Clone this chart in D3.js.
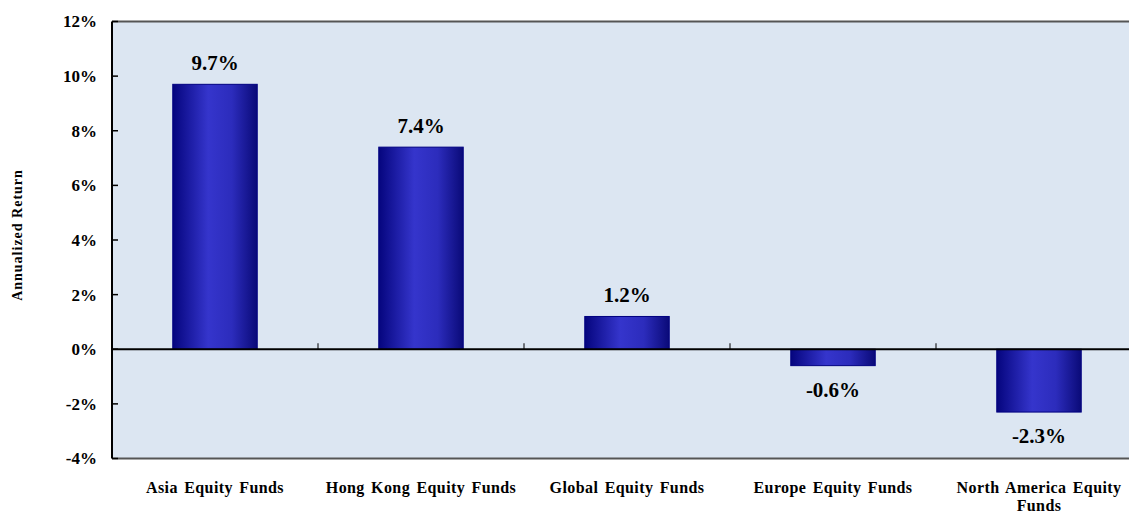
<!DOCTYPE html>
<html>
<head>
<meta charset="utf-8">
<script src="https://cdn.jsdelivr.net/npm/d3@7"></script>
<style>
  body { margin: 0; background: #fff; }
  text { font-family: "Liberation Serif", "Times New Roman", serif; font-weight: bold; fill: #000; }
</style>
</head>
<body>
<div id="chart"></div>
<script>
const categories = ['Asia Equity Funds', 'Hong Kong Equity Funds', 'Global Equity Funds', 'Europe Equity Funds', 'North America Equity Funds']
const returns = [9.7, 7.4, 1.2, -0.6, -2.3]
const yTicks = [-4, -2, 0, 2, 4, 6, 8, 10, 12]

const width = 1129
const height = 513
const margin = { top: 21.5, right: -13, bottom: 54.5, left: 112 }
const gWidth = width - margin.left - margin.right
const gHeight = height - margin.top - margin.bottom

const svg = d3.select('#chart').append('svg').attr('width', width).attr('height', height)

// 바 그라데이션
const defs = svg.append('defs')
const grad = defs.append('linearGradient').attr('id', 'barGrad').attr('x1', '0%').attr('x2', '100%').attr('y1', '0%').attr('y2', '0%')
grad.append('stop').attr('offset', '0%').attr('stop-color', '#05057e')
grad.append('stop').attr('offset', '42%').attr('stop-color', '#3535cc')
grad.append('stop').attr('offset', '70%').attr('stop-color', '#2c2cbc')
grad.append('stop').attr('offset', '100%').attr('stop-color', '#0a0a78')

const graph = svg.append('g').attr('transform', `translate(${margin.left}, ${margin.top})`)

const x = d3.scaleBand().domain(categories).range([0, gWidth]).paddingInner(0).paddingOuter(0)
const y = d3.scaleLinear().domain([-4, 12]).range([gHeight, 0])

// 배경
graph.append('rect').attr('x', 0).attr('y', 0).attr('width', gWidth).attr('height', gHeight).attr('fill', '#dce6f2')
graph.append('line').attr('x1', 0).attr('x2', gWidth).attr('y1', 0).attr('y2', 0).attr('stroke', '#555').attr('stroke-width', 2)
graph.append('line').attr('x1', 0).attr('x2', gWidth).attr('y1', gHeight).attr('y2', gHeight).attr('stroke', '#555').attr('stroke-width', 2)

// 바
const barW = x.bandwidth() * 0.41
graph.selectAll('rect.bar').data(returns).enter().append('rect')
  .attr('class', 'bar')
  .attr('x', (d, i) => x(categories[i]) + (x.bandwidth() - barW) / 2)
  .attr('width', barW)
  .attr('y', (d) => y(Math.max(0, d)))
  .attr('height', (d) => Math.abs(y(d) - y(0)))
  .attr('fill', 'url(#barGrad)')
  .attr('stroke', '#000080')
  .attr('stroke-width', 1)

// 값 라벨
graph.selectAll('text.val').data(returns).enter().append('text')
  .attr('class', 'val')
  .attr('x', (d, i) => x(categories[i]) + x.bandwidth() / 2)
  .attr('y', (d) => d >= 0 ? y(d) - 14 : y(d) + 31)
  .attr('text-anchor', 'middle')
  .style('font-size', '21px')
  .text((d) => `${d.toFixed(1)}%`)

// y축
const yAxis = d3.axisLeft(y).tickValues(yTicks).tickSize(0).tickPadding(15).tickFormat((d) => `${d}%`)
const gY = graph.append('g').call(yAxis)
gY.select('.domain').remove()
gY.selectAll('text').style('font-size', '17px').style('font-family', '"Liberation Serif", serif').style('font-weight', 'bold')
graph.selectAll('line.ytick').data(yTicks).enter().append('line')
  .attr('class', 'ytick')
  .attr('x1', 0).attr('x2', 6)
  .attr('y1', (d) => y(d)).attr('y2', (d) => y(d))
  .attr('stroke', '#000').attr('stroke-width', 1.5)
graph.append('line').attr('x1', 0).attr('x2', 0).attr('y1', 0).attr('y2', gHeight).attr('stroke', '#000').attr('stroke-width', 2)

// 0 라인 + 카테고리 구분 틱
graph.append('line').attr('x1', 0).attr('x2', gWidth).attr('y1', y(0)).attr('y2', y(0)).attr('stroke', '#000').attr('stroke-width', 2)
graph.selectAll('line.xtick').data(categories.slice(1)).enter().append('line')
  .attr('class', 'xtick')
  .attr('x1', (d) => x(d)).attr('x2', (d) => x(d))
  .attr('y1', y(0) - 6).attr('y2', y(0))
  .attr('stroke', '#000').attr('stroke-width', 1)

// 카테고리 라벨
const catLines = (c) => c === 'North America Equity Funds' ? ['North America Equity', 'Funds'] : [c]
const catText = graph.selectAll('text.cat').data(categories).enter().append('text')
  .attr('class', 'cat')
  .attr('x', (d) => x(d) + x.bandwidth() / 2)
  .attr('y', gHeight + 34)
  .attr('text-anchor', 'middle')
  .style('font-size', '16px')
  .style('letter-spacing', '0.4px')
  .style('word-spacing', '2px')
catText.each(function (d) {
  const el = d3.select(this)
  catLines(d).forEach((line, i) => {
    el.append('tspan').attr('x', x(d) + x.bandwidth() / 2).attr('dy', i === 0 ? 0 : 18).text(line)
  })
})

// y축 제목
svg.append('text')
  .attr('transform', `translate(22, ${margin.top + gHeight / 2 - 5}) rotate(-90)`)
  .attr('text-anchor', 'middle')
  .style('font-size', '14px')
  .style('letter-spacing', '1px')
  .text('Annualized Return')
</script>
</body>
</html>
